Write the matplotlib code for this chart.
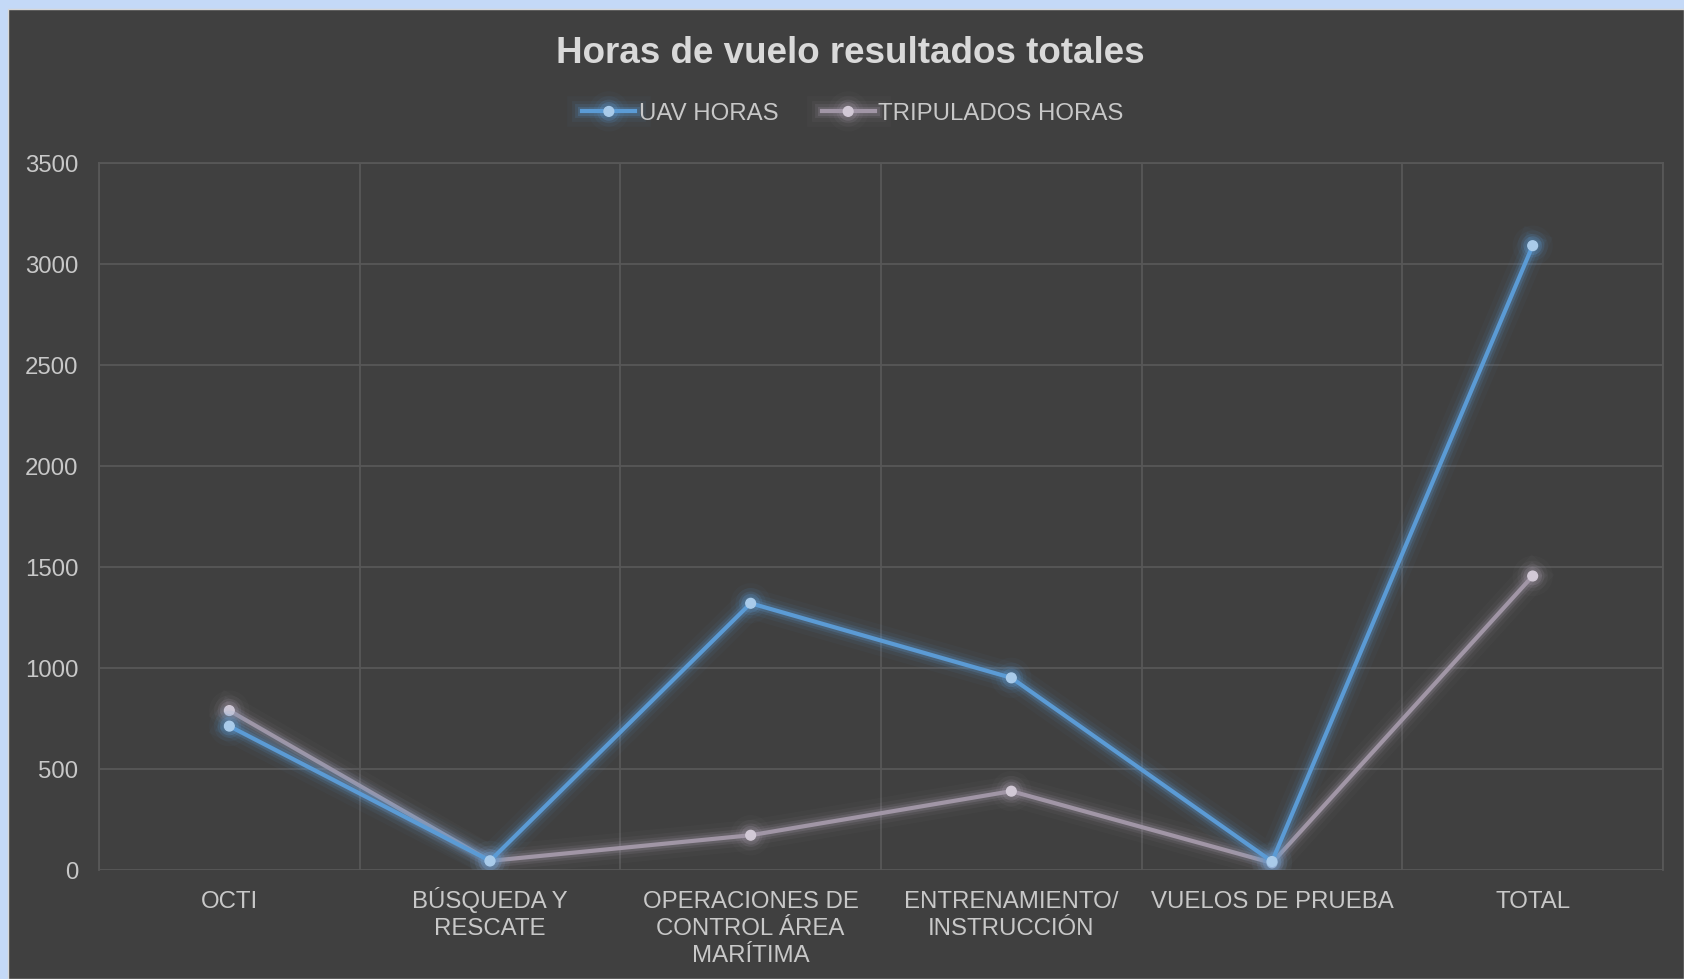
import matplotlib
matplotlib.use("Agg")
import matplotlib.pyplot as plt
import matplotlib.patheffects as pe
import matplotlib.transforms as mtransforms
from matplotlib.patches import Rectangle
import numpy as np

# datos
categorias = ["OCTI", "BÚSQUEDA Y\nRESCATE", "OPERACIONES DE\nCONTROL ÁREA\nMARÍTIMA",
              "ENTRENAMIENTO/\nINSTRUCCIÓN", "VUELOS DE PRUEBA", "TOTAL"]
uav_horas = [712, 45, 1320, 951, 42, 3090]
tripulados_horas = [789, 45, 172, 390, 35, 1455]
y_ticks = [0, 500, 1000, 1500, 2000, 2500, 3000, 3500]

fondo = "#404040"
rejilla = "#585858"
texto = "#C8C8C8"
azul, azul_claro = "#5B9BD5", "#A9CBEA"
gris, gris_claro = "#A196A6", "#D2C9D6"

plt.rcParams["font.family"] = ["Liberation Sans", "DejaVu Sans"]

fig = plt.figure(figsize=(16.84, 9.792), dpi=100, facecolor="#C4D9F7")
# panel oscuro del gráfico (borde claro arriba e izquierda como en la captura)
fig.patches.append(Rectangle((8 / 1684, 0), 1 - 8 / 1684, 1 - 9 / 979,
                             transform=fig.transFigure, facecolor=fondo,
                             edgecolor="#D6D6D6", linewidth=1.0, zorder=-10))

ax = fig.add_axes([99 / 1684, (979 - 870) / 979, (1663 - 99) / 1684, (870 - 163) / 979])
ax.set_facecolor(fondo)

x = np.arange(len(categorias))


def glow(color):
    return [pe.Stroke(linewidth=22, foreground=color, alpha=0.04),
            pe.Stroke(linewidth=15, foreground=color, alpha=0.07),
            pe.Stroke(linewidth=10, foreground=color, alpha=0.13),
            pe.Stroke(linewidth=6.5, foreground=color, alpha=0.22),
            pe.Normal()]


ax.plot(x, uav_horas, color=azul, lw=3.0, marker="o", ms=7,
        mfc=azul_claro, mec=azul_claro, label="UAV HORAS",
        path_effects=glow(azul), zorder=4)
ax.plot(x, tripulados_horas, color=gris, lw=3.0, marker="o", ms=7,
        mfc=gris_claro, mec=gris_claro, label="TRIPULADOS HORAS",
        path_effects=glow(gris), zorder=3)

ax.set_xlim(-0.5, len(categorias) - 0.5)
ax.set_ylim(0, 3500)
ax.set_yticks(y_ticks)
ax.set_yticklabels([str(v) for v in y_ticks])
ax.set_xticks(x)
ax.set_xticklabels([])
ax.set_xticks(np.arange(-0.5, len(categorias)), minor=True)

ax.grid(True, axis="y", which="major", color=rejilla, lw=1.3)
ax.grid(True, axis="x", which="minor", color=rejilla, lw=1.3)
ax.grid(False, axis="x", which="major")
ax.set_axisbelow(True)

ax.tick_params(axis="both", which="both", length=0, colors=texto, labelsize=17.3)
ax.tick_params(axis="y", pad=15)

# etiquetas de categoría: cada línea alineada por su línea base
base = mtransforms.blended_transform_factory(ax.transData, ax.transAxes)
for xi, cat in zip(x, categorias):
    for k, linea in enumerate(cat.split("\n")):
        tr = mtransforms.offset_copy(base, fig=fig, x=0, y=-(27 + 19.7 * k), units="points")
        ax.text(xi, 0, linea, transform=tr, ha="center", va="baseline",
                fontsize=17.3, color=texto)

for lado in ["left", "top", "right"]:
    ax.spines[lado].set_color(rejilla)
    ax.spines[lado].set_linewidth(1.3)
ax.spines["bottom"].set_visible(False)

fig.text(850 / 1684, 1 - 53 / 979, "Horas de vuelo resultados totales",
         ha="center", va="center", fontsize=26.5, fontweight="bold", color="#D9D9D9")

leg = ax.legend(loc="center", bbox_to_anchor=(853 / 1684, 1 - 114 / 979),
                bbox_transform=fig.transFigure, ncol=2, frameon=False,
                fontsize=17.3, handlelength=2.2, handletextpad=0.15, columnspacing=1.8)
for t in leg.get_texts():
    t.set_color(texto)

fig.savefig("out.png", dpi=100, facecolor=fig.get_facecolor())
